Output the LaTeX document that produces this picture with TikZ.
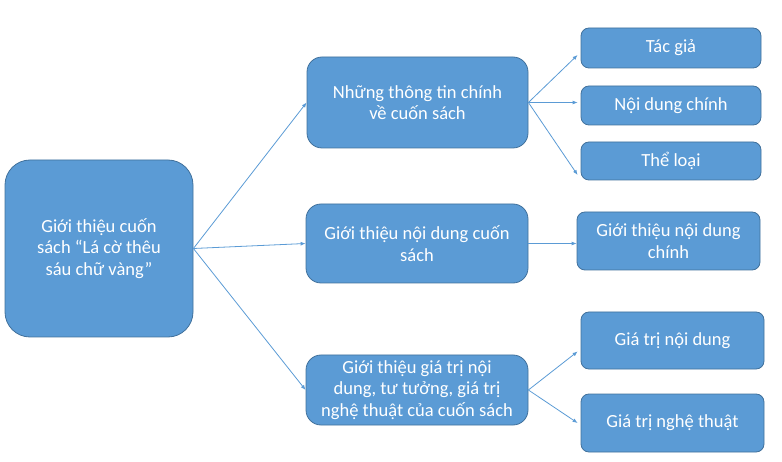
\documentclass[tikz,border=0pt]{standalone}
\usepackage{fontspec}
\setmainfont{Carlito}
\usetikzlibrary{arrows.meta}
\definecolor{boxfill}{HTML}{5B9BD5}
\definecolor{boxline}{HTML}{41719C}
\definecolor{arrcol}{HTML}{5B9BD5}
\tikzset{
  base/.style={draw=boxline, line width=0.8pt, fill=boxfill, text=white, align=center,
    inner sep=2pt, font=\fontsize{18.5}{21.5}\selectfont},
  bigbox/.style={base, rounded corners=25pt},
  midbox/.style={base, rounded corners=15pt},
  smallbox/.style={base, rounded corners=8pt},
  conn/.style={draw=arrcol, line width=0.8pt, -{Latex[length=5pt,width=4pt]}}
}
\begin{document}
\begin{tikzpicture}[x=1pt,y=1pt]
\useasboundingbox (0,0) rectangle (782,-462);
% left
\node[bigbox, minimum width=188pt, minimum height=177pt] (L) at (99,-248.5) {Giới thiệu cuốn\\sách “Lá cờ thêu\\sáu chữ vàng”};
% middle
\node[midbox, minimum width=221pt, minimum height=91pt] (M1) at (417.5,-102.5) {Những thông tin chính\\về cuốn sách};
\node[midbox, minimum width=222pt, minimum height=79pt] (M2) at (417,-243.5) {Giới thiệu nội dung cuốn\\sách};
\node[midbox, minimum width=222pt, minimum height=70pt] (M3) at (417,-390) {Giới thiệu giá trị nội\\dung, tư tưởng, giá trị\\nghệ thuật của cuốn sách};
% right
\node[smallbox, minimum width=180pt, minimum height=40pt] (R1) at (671,-48) {Tác giả};
\node[smallbox, minimum width=180pt, minimum height=39pt] (R2) at (671,-105.5) {Nội dung chính};
\node[smallbox, minimum width=180pt, minimum height=38pt] (R3) at (671,-161) {Thể loại};
\node[smallbox, minimum width=183pt, minimum height=58pt] (R4) at (668.5,-241) {Giới thiệu nội dung\\chính};
\node[smallbox, minimum width=183pt, minimum height=57pt] (R5) at (672.5,-340.5) {Giá trị nội dung};
\node[smallbox, minimum width=183pt, minimum height=58pt] (R6) at (672.5,-423) {Giá trị nghệ thuật};
% connectors
\coordinate (Lo) at (L.east);
\draw[conn] (Lo) -- (M1.west);
\draw[conn] (Lo) -- (M2.west);
\draw[conn] (Lo) -- (M3.west);
\draw[conn] (M1.east) -- ([xshift=-3pt,yshift=-7pt]R1.west);
\draw[conn] (M1.east) -- ([xshift=-3pt]R2.west |- M1.east);
\draw[conn] (M1.east) -- ([xshift=-3pt,yshift=-14pt]R3.west);
\draw[conn] (M2.east) -- (R4.west |- M2.east);
\draw[conn] (M3.east) -- ([xshift=-3pt,yshift=-11pt]R5.west);
\draw[conn] (M3.east) -- ([xshift=-3pt]R6.west);
\end{tikzpicture}
\end{document}
